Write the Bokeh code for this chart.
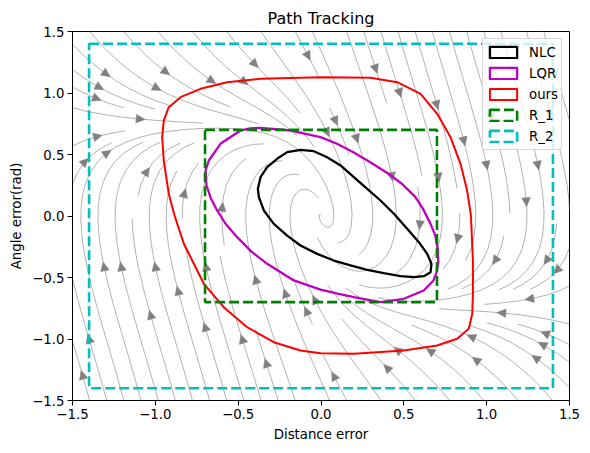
import numpy as np
from bokeh.plotting import figure
from bokeh.models import Range1d, FixedTicker, CustomJSTickFormatter
from bokeh.embed import file_html
from bokeh.resources import INLINE

# ---------------- data ----------------
x_ticks = [-1.5, -1.0, -0.5, 0.0, 0.5, 1.0, 1.5]
y_ticks = [-1.5, -1.0, -0.5, 0.0, 0.5, 1.0, 1.5]

nlc_x = [-0.124, -0.043, 0.037, 0.118, 0.198, 0.279, 0.359, 0.440, 0.520, 0.591,
         0.641, 0.667, 0.661, 0.621, 0.560, 0.480, 0.379, 0.279, 0.178, 0.077,
         -0.023, -0.124, -0.204, -0.285, -0.345, -0.375, -0.381, -0.365, -0.325, -0.265,
         -0.204]
nlc_y = [0.538, 0.527, 0.478, 0.411, 0.316, 0.221, 0.126, 0.018, -0.104, -0.213,
         -0.308, -0.389, -0.457, -0.489, -0.497, -0.489, -0.465, -0.438, -0.402, -0.362,
         -0.308, -0.240, -0.159, -0.064, 0.045, 0.153, 0.221, 0.316, 0.397, 0.465,
         0.519]

lqr_x = [-0.365, -0.184, -0.003, 0.100, 0.198, 0.300, 0.400, 0.490, 0.570, 0.615,
         0.660, 0.690, 0.705, 0.708, 0.697, 0.679, 0.620, 0.500, 0.359, 0.198,
         0.100, -0.003, -0.164, -0.325, -0.420, -0.506, -0.575, -0.627, -0.665, -0.691,
         -0.697, -0.677, -0.607, -0.486, -0.430]
lqr_y = [0.717, 0.695, 0.641, 0.585, 0.516, 0.435, 0.350, 0.260, 0.153, 0.060,
         -0.060, -0.160, -0.270, -0.380, -0.460, -0.524, -0.606, -0.673, -0.701, -0.660,
         -0.632, -0.598, -0.524, -0.389, -0.290, -0.172, -0.065, 0.045, 0.145, 0.248,
         0.370, 0.451, 0.587, 0.695, 0.712]

ours_x = [-0.566, -0.365, -0.003, 0.299, 0.460, 0.601, 0.701, 0.782, 0.842, 0.882,
          0.905, 0.917, 0.917, 0.913, 0.892, 0.822, 0.701, 0.500, 0.198, -0.003,
          -0.124, -0.285, -0.446, -0.587, -0.707, -0.828, -0.884, -0.919, -0.949, -0.959,
          -0.949, -0.919, -0.848, -0.727]
ours_y = [1.088, 1.115, 1.128, 1.124, 1.088, 0.993, 0.831, 0.641, 0.424, 0.207,
          0.004, -0.362, -0.633, -0.795, -0.917, -0.998, -1.053, -1.093, -1.120, -1.115,
          -1.093, -1.026, -0.904, -0.741, -0.551, -0.226, 0.004, 0.180, 0.451, 0.641,
          0.776, 0.885, 0.966, 1.034]

r1_half = 0.7
r2_half = 1.4

# closed-loop dynamics used for the stream lines
V_SPEED = 1.0
K_GAIN = 2.2
THETA_SAT = 0.75
SLOPE = 3.0

# ---------------- layout ----------------
W, H = 582, 445
BL, BR, BT, BB = 72, 13, 31, 45
FW, FH = W - BL - BR, H - BT - BB
XMIN, XMAX, YMIN, YMAX = -1.5, 1.5, -1.5, 1.5
PX_X = FW / (XMAX - XMIN)
PX_Y = FH / (YMAX - YMIN)
HEAD_LEN = 9.0
HEAD_HALF = 4.3


# ---------------- streamplot (matplotlib-like) ----------------
class _Stop(Exception):
    pass


class _OOB(Exception):
    pass


def streamlines(density=1.0, gn=100):
    gx = np.linspace(XMIN, XMAX, gn)
    gy = np.linspace(YMIN, YMAX, gn)
    GX, GY = np.meshgrid(gx, gy)
    U = V_SPEED * np.sin(GY)
    Vv = -K_GAIN * (GY + THETA_SAT * np.tanh(SLOPE * GX))
    dxg = gx[1] - gx[0]
    dyg = gy[1] - gy[0]
    u = U / dxg
    v = Vv / dyg
    speed = np.hypot(u / (gn - 1), v / (gn - 1))
    mn = int(30 * density)
    mask = np.zeros((mn, mn), dtype=int)
    g2m = (mn - 1) / (gn - 1)
    m2g = 1.0 / g2m
    state = {"traj": [], "cur": None}

    def interp(a, xi, yi):
        x = int(xi)
        y = int(yi)
        xn = min(x + 1, gn - 1)
        yn = min(y + 1, gn - 1)
        xt = xi - x
        yt = yi - y
        a0 = a[y, x] * (1 - xt) + a[y, xn] * xt
        a1 = a[yn, x] * (1 - xt) + a[yn, xn] * xt
        return a0 * (1 - yt) + a1 * yt

    def within(xi, yi):
        return 0 <= xi <= gn - 1 and 0 <= yi <= gn - 1

    def update(xi, yi):
        if not within(xi, yi):
            raise _Stop
        xm = int(round(xi * g2m))
        ym = int(round(yi * g2m))
        if state["cur"] != (xm, ym):
            if mask[ym, xm] == 0:
                state["traj"].append((ym, xm))
                mask[ym, xm] = 1
                state["cur"] = (xm, ym)
            else:
                raise _Stop

    def make_f(sign):
        def f(xi, yi):
            if not within(xi, yi):
                raise _OOB
            s = interp(speed, xi, yi)
            if s == 0:
                raise _Stop
            return sign * interp(u, xi, yi) / s, sign * interp(v, xi, yi) / s
        return f

    def euler(traj, f):
        xi, yi = traj[-1]
        cx, cy = f(xi, yi)
        if cx == 0:
            dsx = np.inf
        elif cx < 0:
            dsx = xi / -cx
        else:
            dsx = (gn - 1 - xi) / cx
        if cy == 0:
            dsy = np.inf
        elif cy < 0:
            dsy = yi / -cy
        else:
            dsy = (gn - 1 - yi) / cy
        ds = min(dsx, dsy)
        traj.append((xi + cx * ds, yi + cy * ds))
        return ds

    def rk12(x0, y0, f, maxlength):
        maxerror = 0.003
        maxds = min(1.0 / mn, 0.1)
        ds = maxds
        stotal = 0.0
        xi, yi = x0, y0
        traj = []
        while True:
            try:
                if within(xi, yi):
                    traj.append((xi, yi))
                else:
                    raise _OOB
                k1x, k1y = f(xi, yi)
                k2x, k2y = f(xi + ds * k1x, yi + ds * k1y)
            except _OOB:
                if traj:
                    try:
                        stotal += euler(traj, f)
                    except (_OOB, _Stop):
                        pass
                break
            except _Stop:
                break
            dx1, dy1 = ds * k1x, ds * k1y
            dx2, dy2 = ds * 0.5 * (k1x + k2x), ds * 0.5 * (k1y + k2y)
            err = np.hypot((dx2 - dx1) / (gn - 1), (dy2 - dy1) / (gn - 1))
            if err < maxerror:
                xi += dx2
                yi += dy2
                try:
                    update(xi, yi)
                except _Stop:
                    break
                if stotal + ds > maxlength:
                    break
                stotal += ds
            if err == 0:
                ds = maxds
            else:
                ds = min(maxds, 0.85 * ds * (maxerror / err) ** 0.5)
        return stotal, traj

    def integrate(x0, y0):
        xm = int(round(x0 * g2m))
        ym = int(round(y0 * g2m))
        if mask[ym, xm] != 0:
            return None
        state["traj"] = []
        state["cur"] = None
        update(x0, y0)
        maxlength = 4.0 / 2
        s1, t1 = rk12(x0, y0, make_f(-1.0), maxlength)
        state["cur"] = (xm, ym)
        s2, t2 = rk12(x0, y0, make_f(1.0), maxlength)
        stot = s1 + s2
        traj = t1[::-1] + t2[1:]
        if stot > 0.1:
            return traj
        for t in state["traj"]:
            mask[t] = 0
        return None

    def starts(n):
        xfirst, yfirst, xlast, ylast = 0, 1, n - 1, n - 1
        x, y = 0, 0
        d = "right"
        for _ in range(n * n):
            yield x, y
            if d == "right":
                x += 1
                if x >= xlast:
                    xlast -= 1
                    d = "up"
            elif d == "up":
                y += 1
                if y >= ylast:
                    ylast -= 1
                    d = "left"
            elif d == "left":
                x -= 1
                if x <= xfirst:
                    xfirst += 1
                    d = "down"
            else:
                y -= 1
                if y <= yfirst:
                    yfirst += 1
                    d = "right"

    lines = []
    for xm, ym in starts(mn):
        if mask[ym, xm] == 0:
            t = integrate(xm * m2g, ym * m2g)
            if t is not None and len(t) > 1:
                arr = np.array(t)
                lines.append((XMIN + arr[:, 0] * dxg, YMIN + arr[:, 1] * dyg))
    return lines


lines = streamlines()
sx, sy, hxs, hys = [], [], [], []
for tx, ty in lines:
    sx.append(tx.tolist())
    sy.append(ty.tolist())
    s = np.cumsum(np.hypot(np.diff(tx), np.diff(ty)))
    n = int(np.searchsorted(s, s[-1] / 2.0))
    n = min(n, len(tx) - 2)
    hx, hy = np.mean(tx[n:n + 2]), np.mean(ty[n:n + 2])
    dpx = (tx[n + 1] - tx[n]) * PX_X
    dpy = (ty[n + 1] - ty[n]) * PX_Y
    nrm = np.hypot(dpx, dpy)
    if nrm == 0:
        continue
    ux, uy = dpx / nrm, dpy / nrm
    nx_, ny_ = -uy, ux
    # triangle (tip at the arrow head), built in pixels then mapped to data units
    bx = -ux * HEAD_LEN
    by = -uy * HEAD_LEN
    px = [0.0, bx + nx_ * HEAD_HALF, bx - nx_ * HEAD_HALF]
    py = [0.0, by + ny_ * HEAD_HALF, by - ny_ * HEAD_HALF]
    hxs.append([hx + q / PX_X for q in px])
    hys.append([hy + q / PX_Y for q in py])

# ---------------- figure ----------------
FONT = "DejaVu Sans"
p = figure(width=W, height=H, x_range=Range1d(XMIN, XMAX), y_range=Range1d(YMIN, YMAX),
           output_backend="svg", toolbar_location=None, title="Path Tracking",
           min_border_left=BL, min_border_right=BR, min_border_top=BT, min_border_bottom=BB)
p.background_fill_color = "white"
p.border_fill_color = "white"
p.outline_line_color = "black"
p.outline_line_width = 1
p.grid.visible = False

p.title.align = "center"
p.title.text_font = FONT
p.title.text_font_size = "16px"
p.title.text_font_style = "normal"
p.title.text_color = "black"
p.title.standoff = 8

fmt = CustomJSTickFormatter(code="return tick.toFixed(1).replace('-', '\u2212');")
for axis, ticks, label in ((p.xaxis[0], x_ticks, "Distance error"),
                           (p.yaxis[0], y_ticks, "Angle error(rad)")):
    axis.ticker = FixedTicker(ticks=ticks)
    axis.formatter = fmt
    axis.axis_label = label
    axis.axis_label_text_font = FONT
    axis.axis_label_text_font_size = "13.3px"
    axis.axis_label_text_font_style = "normal"
    axis.axis_label_text_color = "black"
    axis.major_label_text_font = FONT
    axis.major_label_text_font_size = "13.3px"
    axis.major_label_text_color = "black"
    axis.major_tick_out = 5
    axis.major_tick_in = 0
    axis.minor_tick_out = 0
    axis.minor_tick_in = 0
    axis.major_tick_line_color = "black"
    axis.axis_line_color = "black"
    axis.major_label_standoff = 3
    axis.axis_label_standoff = 5

# stream lines and arrow heads
p.multi_line(sx, sy, line_color="#909090", line_width=0.7)
p.patches(hxs, hys, fill_color="#808080", line_color="#808080", line_width=0.5)

# regions of attraction
p.patch(nlc_x, nlc_y, fill_color=None, line_color="black", line_width=2.3,
        line_join="round", legend_label="NLC")
p.patch(lqr_x, lqr_y, fill_color=None, line_color="#bf00bf", line_width=2.3,
        line_join="round", legend_label="LQR")
p.patch(ours_x, ours_y, fill_color=None, line_color="#ff0000", line_width=2.0,
        line_join="round", legend_label="ours")
p.quad(left=[-r1_half], right=[r1_half], bottom=[-r1_half], top=[r1_half],
       fill_color=None, line_color="#008000", line_width=2.6, line_dash="10 4",
       legend_label="R_1")
p.quad(left=[-r2_half], right=[r2_half], bottom=[-r2_half], top=[r2_half],
       fill_color=None, line_color="#00bfbf", line_width=2.6, line_dash="10 4",
       legend_label="R_2")

lg = p.legend[0]
lg.location = "top_right"
lg.margin = 7
lg.padding = 3
lg.spacing = 1
lg.label_height = 20
lg.glyph_width = 34
lg.glyph_height = 14
lg.label_standoff = 9
lg.label_text_font = FONT
lg.label_text_font_size = "13.3px"
lg.label_text_color = "black"
lg.border_line_color = "#cccccc"
lg.border_line_width = 1
lg.background_fill_alpha = 0.8
lg.border_line_alpha = 0.8

open("out.html", "w").write(file_html(p, INLINE))
